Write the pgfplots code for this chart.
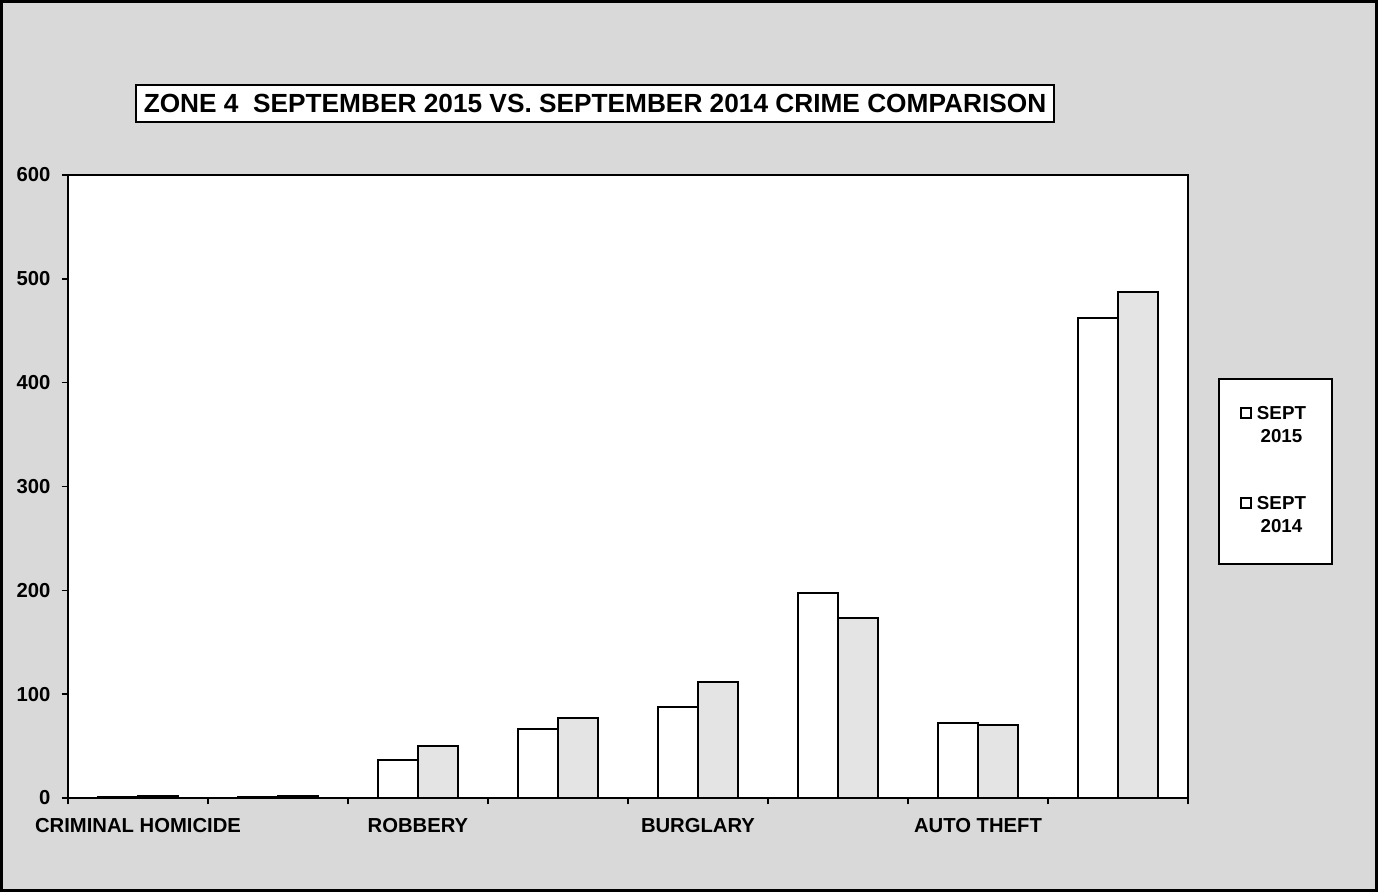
\documentclass[border=0pt]{standalone}
\usepackage{pgfplots}
\pgfplotsset{compat=1.18}
\usepackage{fontspec}
\setmainfont{Liberation Sans}
\definecolor{bg}{HTML}{D9D9D9}
\definecolor{barb}{HTML}{E4E4E4}
\begin{document}
\begin{tikzpicture}[x=1pt,y=1pt]
\fill[bg] (-27.2,-37.6) rectangle (524,319.2);
\draw[line width=1.2pt] (-26.6,-37.0) rectangle (523.4,318.6);
\begin{axis}[
  at={(0,0)}, anchor=south west, scale only axis,
  width=448pt, height=249.2pt,
  axis background/.style={fill=white},
  axis line style={line width=0.9pt},
  ybar=0pt, bar width=16pt,
  xmin=-0.5, xmax=7.5, ymin=0, ymax=600,
  ytick={0,100,...,600},
  xtick={0,2,4,6},
  xticklabels={CRIMINAL HOMICIDE, ROBBERY, BURGLARY, AUTO THEFT},
  major x tick style={draw=none},
  minor xtick={-0.5,0.5,...,7.5},
  tick align=outside, tick pos=left,
  major tick length=2.5pt, minor tick length=2.5pt,
  tick style={line width=0.6pt, black},
  /pgf/number format/assume math mode=true,
  tick label style={font=\bfseries\fontsize{8.1}{10}\selectfont},
  xticklabel style={yshift=-2pt},
  yticklabel style={xshift=-1pt},
  legend style={at={(1.027,0.674)}, anchor=north west, draw=black,
    line width=0.8pt, fill=white, font=\bfseries\fontsize{7.5}{9.2}\selectfont,
    row sep=16pt, inner xsep=8.5pt, inner ysep=9pt,
    nodes={align=center}},
  legend image code/.code={\draw[line width=0.6pt, fill=white, draw=black] (0pt,3.4pt) rectangle (4pt,7.4pt);},
]
\addplot[draw=black, line width=0.8pt, fill=white] coordinates {(0,1) (1,1) (2,37) (3,66) (4,88) (5,197) (6,72) (7,462)};
\addplot[draw=black, line width=0.8pt, fill=barb] coordinates {(0,2) (1,2) (2,50) (3,77) (4,112) (5,173) (6,70) (7,487)};
\addlegendentry{SEPT\\2015}
\addlegendentry{SEPT\\2014}
\end{axis}
\node[draw, line width=0.8pt, fill=white, inner xsep=3pt, minimum height=14.8pt,
  font=\bfseries\fontsize{10.5}{12}\selectfont] at (210.8,277.8)
  {ZONE 4\ \ SEPTEMBER 2015 VS. SEPTEMBER 2014 CRIME COMPARISON};
\end{tikzpicture}
\end{document}
